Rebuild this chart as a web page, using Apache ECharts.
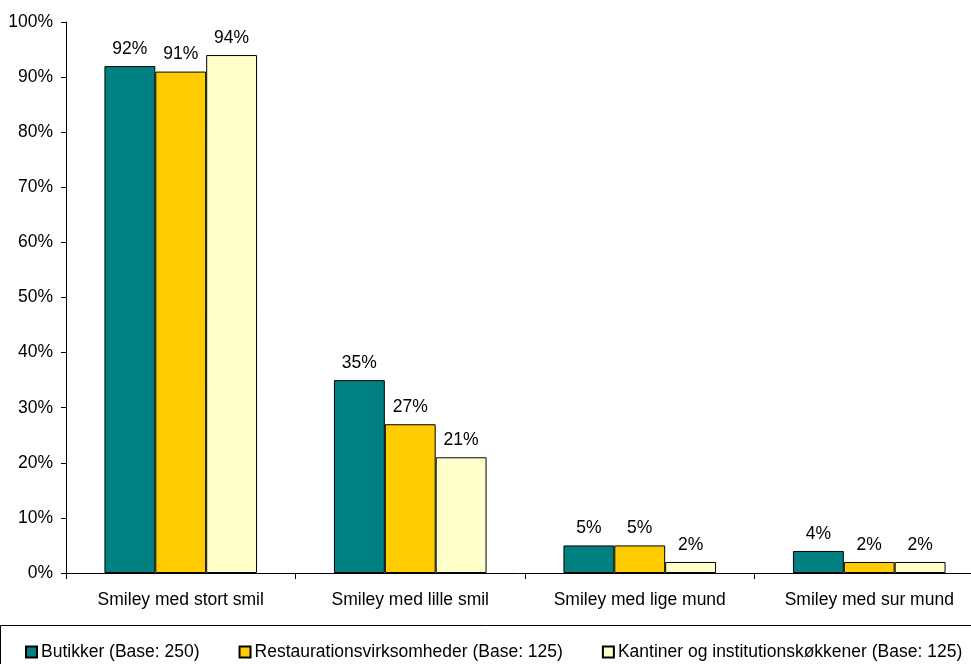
<!DOCTYPE html>
<html>
<head>
<meta charset="utf-8">
<script src="https://cdn.jsdelivr.net/npm/echarts@6/dist/echarts.min.js"></script>
<style>
  html, body { margin: 0; padding: 0; background: #fff; }
  #chart { width: 971px; height: 664px; }
</style>
</head>
<body>
<div id="chart"></div>
<script>
// Smiley ratings by business type (share of respondents)
const categories = ['Smiley med stort smil', 'Smiley med lille smil', 'Smiley med lige mund', 'Smiley med sur mund'];
const seriesNames = ['Butikker (Base: 250)', 'Restaurationsvirksomheder (Base: 125)', 'Kantiner og institutionskøkkener (Base: 125)'];
const butikker = [92, 35, 5, 4];
const restauration = [91, 27, 5, 2];
const kantiner = [94, 21, 2, 2];
const seriesColors = ['#008080', '#FFCC00', '#FFFFCC'];

const font = 'Arial, "Liberation Sans", sans-serif';
const fs = 17.5;
const values = [butikker, restauration, kantiner];

const chart = echarts.init(document.getElementById('chart'));
chart.setOption({
  animation: false,
  textStyle: { fontFamily: font },
  // plot area runs slightly past the right edge of the canvas
  grid: { left: 66, width: 918, top: 22, height: 551, containLabel: false, outerBoundsMode: 'none' },
  legend: {
    left: 20,
    top: 638,
    itemWidth: 11,
    itemHeight: 11,
    itemGap: 39,
    icon: 'rect',
    textStyle: { fontFamily: font, fontSize: fs, color: '#000', padding: [0, 0, 0, -1] },
    data: seriesNames
  },
  graphic: [{
    type: 'rect',
    shape: { x: 0.5, y: 625.5, width: 1000, height: 100 },
    style: { fill: 'none', stroke: '#000', lineWidth: 1 },
    z: -1
  }],
  xAxis: {
    type: 'category',
    data: categories,
    axisLine: { lineStyle: { color: '#000', width: 1 } },
    axisTick: { show: true, inside: false, length: 6, lineStyle: { color: '#000' } },
    axisLabel: { fontFamily: font, fontSize: fs, color: '#000', margin: 18 }
  },
  yAxis: {
    type: 'value',
    min: 0,
    max: 100,
    interval: 10,
    axisLine: { show: true, lineStyle: { color: '#000', width: 1 } },
    axisTick: { show: true, inside: false, length: 5, lineStyle: { color: '#000' } },
    splitLine: { show: false },
    axisLabel: { fontFamily: font, fontSize: fs, color: '#000', margin: 13, formatter: '{value}%' }
  },
  series: values.map((v, i) => ({
    name: seriesNames[i],
    type: 'bar',
    data: v,
    barGap: 0,
    barCategoryGap: '33.5%',
    itemStyle: { color: seriesColors[i], borderColor: '#000', borderWidth: 1 },
    label: {
      show: true,
      position: 'top',
      distance: 8,
      fontFamily: font,
      fontSize: fs,
      color: '#000',
      formatter: '{c}%'
    }
  }))
});
</script>
</body>
</html>
